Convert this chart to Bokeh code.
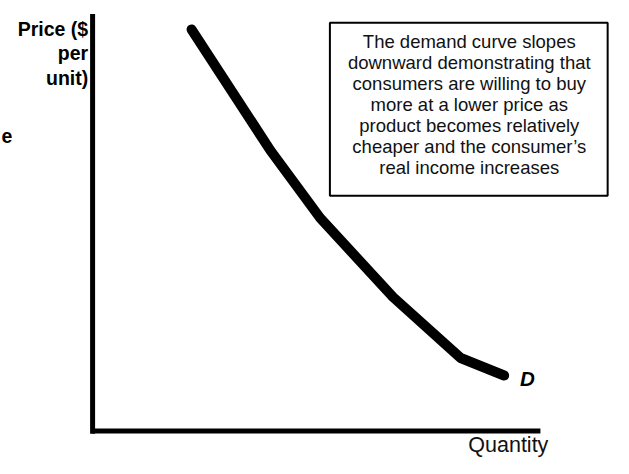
from bokeh.plotting import figure
from bokeh.models import Range1d
from bokeh.core.properties import value
from bokeh.embed import file_html
from bokeh.resources import INLINE

# ---- data ----
quantity = [2.21, 3.97, 5.08, 6.71, 8.22, 9.19]
price = [9.63, 6.73, 5.11, 3.21, 1.75, 1.33]

y_label_lines = ["Price ($", "per", "unit)"]
x_label = "Quantity"
curve_label = "D"
side_fragment = "e"
note_lines = [
    "The demand curve slopes",
    "downward demonstrating that",
    "consumers are willing to buy",
    "more at a lower price as",
    "product becomes relatively",
    "cheaper and the consumer\u2019s",
    "real income increases",
]

# ---- layout helpers (reference pixel -> data) ----
X0, SX = 94.5, 45.95
Y0, SY = 445.5, 43.15
def qx(px):
    return (px - X0) / SX
def py_(py):
    return (Y0 - py) / SY

W, H = 613, 458
p = figure(width=W, height=H, output_backend="svg", toolbar_location=None,
           x_range=Range1d(qx(0), qx(629)), y_range=Range1d(py_(474), py_(0)),
           min_border=0, outline_line_color=None, background_fill_color="white",
           border_fill_color="white")
p.xaxis.visible = False
p.yaxis.visible = False
p.grid.visible = False

FONT = value("Liberation Sans")

# axes
p.segment(x0=[0, 0], y0=[py_(448.5), 0], x1=[0, 10], y1=[10, 0],
          line_color="black", line_width=5, line_cap="butt")

# demand curve
p.line(quantity, price, line_color="black", line_width=10,
       line_cap="round", line_join="round")

# note box
p.quad(left=[qx(338)], right=[qx(623)], top=[py_(23)], bottom=[py_(202)],
       fill_color="white", line_color="black", line_width=2)
p.text(x=[qx(481)] * len(note_lines),
       y=[py_(42 + i * 21.8) for i in range(len(note_lines))],
       text=note_lines, text_font=FONT, text_font_size="18.5px",
       text_align="center", text_baseline="middle", text_color="#111111")

# y label
p.text(x=[qx(90)] * 3, y=[py_(29), py_(54.5), py_(80)], text=y_label_lines,
       text_font=FONT, text_font_size="19.5px", text_font_style="bold",
       text_align="right", text_baseline="alphabetic", text_color="black")

# small fragment at the left edge
p.text(x=[qx(1)], y=[py_(140)], text=[side_fragment], text_font=FONT,
       text_font_size="19.5px", text_font_style="bold",
       text_align="left", text_baseline="alphabetic", text_color="black")

# D label
p.text(x=[qx(533)], y=[py_(391)], text=[curve_label], text_font=FONT,
       text_font_size="20.5px", text_font_style="bold italic",
       text_align="left", text_baseline="alphabetic", text_color="black")

# x label
p.text(x=[qx(480)], y=[py_(460)], text=[x_label], text_font=FONT,
       text_font_size="21.5px", text_align="left", text_baseline="alphabetic",
       text_color="#111111")

open("out.html", "w").write(file_html(p, INLINE))
